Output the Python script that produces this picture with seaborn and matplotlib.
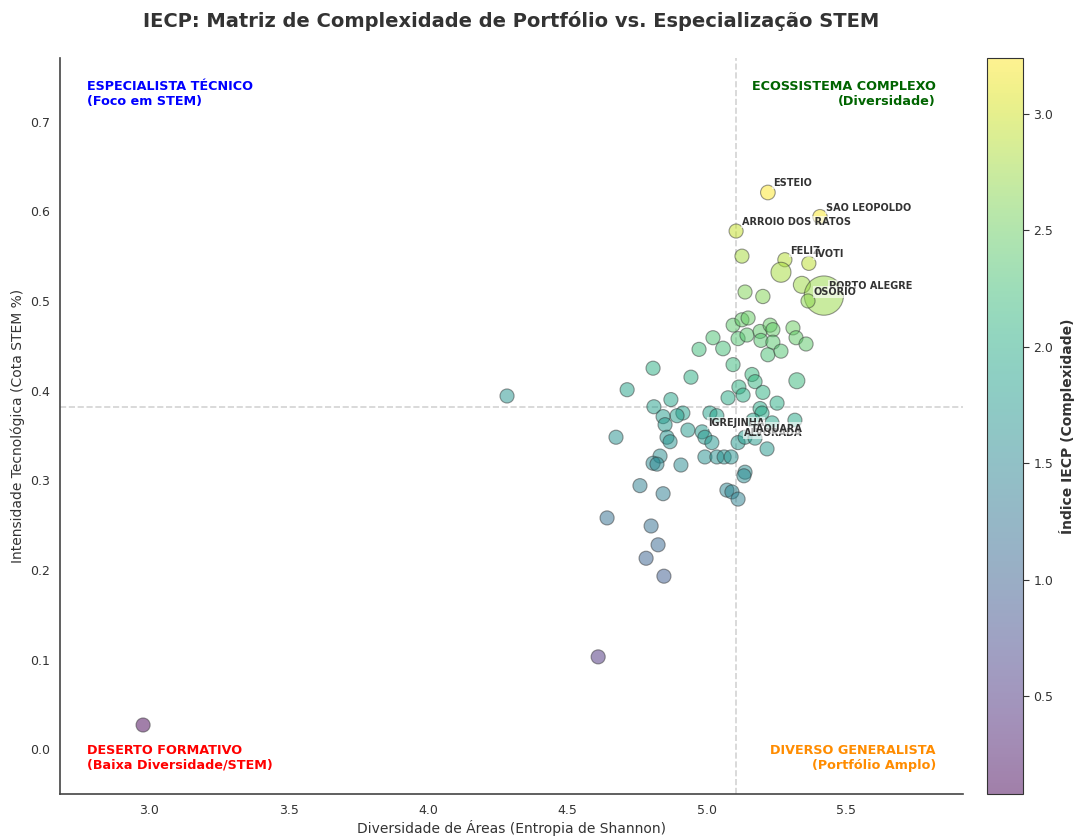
import numpy as np
import pandas as pd
import matplotlib
matplotlib.use("Agg")
import matplotlib.pyplot as plt
import seaborn as sns

# ---------------- data ----------------
municipios = [
    "ESTEIO", "SAO LEOPOLDO", "ARROIO DOS RATOS", "", "FELIZ", "IVOTI", "", "",
    "PORTO ALEGRE", "OSORIO", "", "",
    "", "", "", "", "", "", "", "", "", "", "", "",
    "", "", "", "", "", "", "", "", "", "", "", "",
    "", "", "", "", "", "", "", "", "", "", "", "",
    "", "", "", "", "", "", "", "", "IGREJINHA", "", "", "ALVORADA",
    "TAQUARA", "", "", "", "", "",
]

entropia = [
    5.220, 5.407, 5.106, 5.127, 5.281, 5.367, 5.267, 5.342, 5.421, 5.364, 5.138, 5.202,
    5.095, 5.127, 5.149, 5.023, 5.059, 4.973, 5.113, 5.145, 5.192, 5.228, 5.238, 5.195,
    5.238, 5.310, 5.321, 5.357, 5.220, 5.267, 5.095, 4.808, 4.944, 5.163, 5.174, 5.324,
    5.116, 5.131, 5.202, 5.077, 5.253, 4.715, 4.872, 4.811, 5.192, 5.199, 4.915, 5.012,
    5.037, 4.894, 4.844, 4.851, 5.317, 5.167, 5.235, 4.933, 4.984, 4.994, 5.019, 5.113,
    5.138, 5.174, 5.217, 4.675, 4.858, 4.869,
    4.994, 5.037, 5.063, 5.088, 4.833, 4.808, 4.822, 4.908, 5.138, 5.134, 4.761, 4.844,
    5.073, 5.091, 5.113, 4.643, 4.801, 4.826, 4.783, 4.847, 4.611, 4.284, 2.978,
]

stem = [
    0.621, 0.594, 0.578, 0.550, 0.546, 0.542, 0.532, 0.518, 0.506, 0.500, 0.510, 0.505,
    0.473, 0.479, 0.481, 0.459, 0.447, 0.446, 0.458, 0.462, 0.466, 0.473, 0.468, 0.456,
    0.454, 0.470, 0.459, 0.452, 0.440, 0.444, 0.429, 0.425, 0.415, 0.418, 0.410, 0.411,
    0.404, 0.395, 0.398, 0.392, 0.386, 0.401, 0.390, 0.382, 0.380, 0.375, 0.375, 0.375,
    0.372, 0.372, 0.371, 0.362, 0.367, 0.367, 0.364, 0.356, 0.354, 0.348, 0.342, 0.342,
    0.348, 0.347, 0.335, 0.348, 0.348, 0.343,
    0.326, 0.326, 0.326, 0.326, 0.327, 0.319, 0.318, 0.317, 0.309, 0.305, 0.294, 0.285,
    0.289, 0.287, 0.279, 0.258, 0.249, 0.228, 0.213, 0.193, 0.103, 0.394, 0.027,
]

iecp = [
    3.24, 3.21, 2.95, 2.82, 2.88, 2.91, 2.80, 2.77, 2.74, 2.68, 2.62, 2.63,
    2.41, 2.46, 2.48, 2.31, 2.26, 2.22, 2.34, 2.38, 2.42, 2.47, 2.45, 2.37,
    2.38, 2.50, 2.44, 2.42, 2.30, 2.34, 2.18, 2.05, 2.05, 2.16, 2.12, 2.19,
    2.07, 2.03, 2.07, 1.99, 2.03, 1.89, 1.90, 1.84, 1.97, 1.95, 1.84, 1.88,
    1.87, 1.82, 1.80, 1.75, 1.95, 1.90, 1.91, 1.76, 1.76, 1.74, 1.71, 1.75,
    1.79, 1.80, 1.75, 1.63, 1.69, 1.67,
    1.63, 1.64, 1.65, 1.66, 1.58, 1.54, 1.53, 1.56, 1.59, 1.56, 1.40, 1.38,
    1.47, 1.46, 1.43, 1.20, 1.20, 1.10, 1.02, 0.94, 0.47, 1.69, 0.08,
]

matriculas = [
    1800, 1500, 1200, 1200, 1300, 1300, 8500, 4500, 50000, 1200, 1200, 1400,
    1000, 1200, 1200, 1200, 1800, 1200, 1200, 1200, 1200, 1200, 1200, 1200,
    1200, 1200, 1200, 1200, 1200, 1200, 1200, 1200, 1200, 1200, 1200, 3300,
    1200, 1200, 1200, 1200, 1200, 1200, 1200, 1200, 1200, 1200, 1200, 1200,
    1200, 1200, 1200, 1200, 1200, 1200, 1200, 1200, 1200, 1200, 1200, 1200,
    1200, 1200, 1200, 1200, 1200, 1200,
    1200, 1200, 1200, 1200, 1200, 1200, 1200, 1200, 1200, 1200, 1200, 1200,
    1200, 1200, 1200, 1200, 1200, 1200, 1200, 1200, 1200, 1200, 1200,
]

n = len(entropia)
municipios = (municipios + [""] * n)[:n]

df = pd.DataFrame({
    "municipio": municipios,
    "entropia": entropia,
    "stem": stem,
    "iecp": iecp,
    "matriculas": matriculas,
})

# ---------------- figure ----------------
sns.set_style("white")
plt.rcParams["font.family"] = ["DejaVu Sans"]

fig = plt.figure(figsize=(10.74, 8.36), dpi=100)
ax = fig.add_axes([0.0559, 0.0502, 0.8407, 0.8804])
cax = fig.add_axes([0.919, 0.0502, 0.0335, 0.8804])

vmin, vmax = 0.08, 3.24
norm = matplotlib.colors.Normalize(vmin=vmin, vmax=vmax)

sns.scatterplot(
    data=df, x="entropia", y="stem", hue="iecp", hue_norm=norm,
    palette="viridis", size="matriculas", sizes=(100, 800),
    alpha=0.5, edgecolor="#333333", linewidth=0.8, legend=False, ax=ax,
)

med_x = np.median(df["entropia"])
med_y = np.median(df["stem"])
ax.axvline(med_x, color="gray", ls="--", lw=1.2, alpha=0.35, zorder=0)
ax.axhline(med_y, color="gray", ls="--", lw=1.2, alpha=0.35, zorder=0)

for _, r in df[df["municipio"] != ""].iterrows():
    ax.annotate(r["municipio"], (r["entropia"], r["stem"]),
                xytext=(4, 3), textcoords="offset points",
                fontsize=7, fontweight="bold", color="#333333",
                ha="left", va="bottom",
                bbox=dict(boxstyle="square,pad=0.1", fc="white", ec="none", alpha=0.6))

ax.set_xlim(2.68, 5.92)
ax.set_ylim(-0.05, 0.771)

qkw = dict(transform=ax.transAxes, fontsize=9.2, fontweight="bold")
ax.text(0.03, 0.97, "ESPECIALISTA TÉCNICO\n(Foco em STEM)", color="blue",
        ha="left", va="top", **qkw)
ax.text(0.97, 0.97, "ECOSSISTEMA COMPLEXO\n(Diversidade)", color="darkgreen",
        ha="right", va="top", multialignment="right", **qkw)
ax.text(0.03, 0.03, "DESERTO FORMATIVO\n(Baixa Diversidade/STEM)", color="red",
        ha="left", va="bottom", **qkw)
ax.text(0.97, 0.03, "DIVERSO GENERALISTA\n(Portfólio Amplo)", color="darkorange",
        ha="right", va="bottom", multialignment="right", **qkw)

ax.set_title("IECP: Matriz de Complexidade de Portfólio vs. Especialização STEM",
             fontsize=14, fontweight="bold", color="#333333", pad=22)
ax.set_xlabel("Diversidade de Áreas (Entropia de Shannon)", fontsize=10,
              color="#333333", labelpad=2)
ax.set_ylabel("Intensidade Tecnológica (Cota STEM %)", fontsize=10, color="#333333")
ax.tick_params(labelsize=9, colors="#333333")
sns.despine(ax=ax)
for s in ("left", "bottom"):
    ax.spines[s].set_color("#444444")
    ax.spines[s].set_linewidth(1.2)

sm = matplotlib.cm.ScalarMappable(norm=norm, cmap="viridis")
sm.set_array([])
cbar = fig.colorbar(sm, cax=cax)
cbar.solids.set_alpha(0.5)
cbar.set_ticks([0.5, 1.0, 1.5, 2.0, 2.5, 3.0])
cbar.ax.tick_params(labelsize=9, colors="#333333", right=True, length=4)
cbar.set_label("Índice IECP (Complexidade)", fontsize=10, fontweight="bold", color="#333333")
cbar.outline.set_edgecolor("#333333")

fig.savefig("out.png", dpi=100)
